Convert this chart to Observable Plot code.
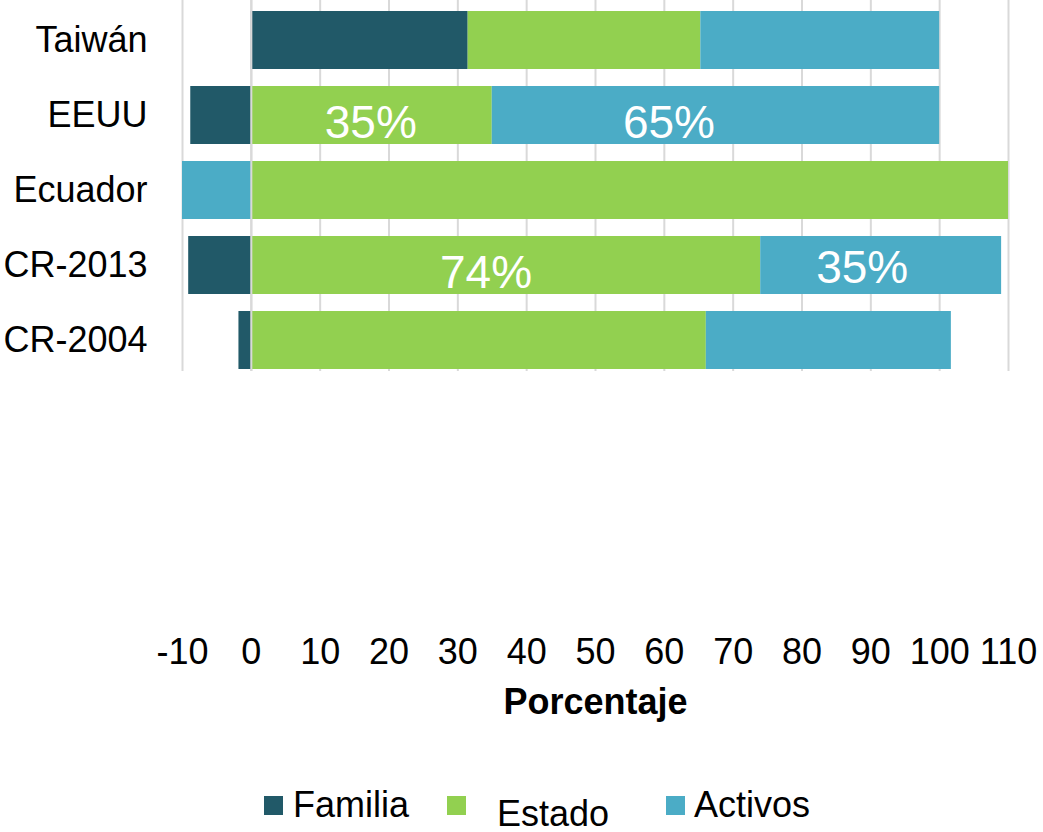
<!DOCTYPE html>
<html>
<head>
<meta charset="utf-8">
<script src="https://cdn.jsdelivr.net/npm/d3@7"></script>
<script src="https://cdn.jsdelivr.net/npm/@observablehq/plot@0.6"></script>
<style>
  html, body { margin: 0; padding: 0; background: #fff; }
  body { font-family: "Liberation Sans", Arial, sans-serif; color: #000; width: 1043px; }
  #legend { position: relative; width: 1043px; height: 87px; font-size: 36px; }
  #legend .sw { position: absolute; width: 19px; height: 19px; }
  #legend .lb { position: absolute; line-height: 36px; white-space: nowrap; }
</style>
</head>
<body>
<div id="chart"></div>
<div id="legend"></div>
<script>
// ---- data ----
const categories = ["Taiwán", "EEUU", "Ecuador", "CR-2013", "CR-2004"];
const series = ["Familia", "Estado", "Activos"];
const familia = [31.5, -8.8, 0, -9.1, -1.8];
const estado = [33.8, 35, 110, 74, 66.1];
const activos = [34.7, 65, -10, 35, 35.6];
const colors = ["#215968", "#92D050", "#4BACC6"];
const xTicks = [-10, 0, 10, 20, 30, 40, 50, 60, 70, 80, 90, 100, 110];
const xLabel = "Porcentaje";
const labelCategories = ["EEUU", "EEUU", "CR-2013", "CR-2013"];
const labelSeries = ["Estado", "Activos", "Estado", "Activos"];
const labelTexts = ["35%", "65%", "74%", "35%"];

// ---- table ----
const valuesBySeries = [familia, estado, activos];
const rows = categories.flatMap((c, i) =>
  series.map((s, j) => ({category: c, series: s, value: valuesBySeries[j][i]})));

// segment midpoints (same stacking as Plot: positives right, negatives left, in series order)
const mids = new Map();
categories.forEach((c, i) => {
  let pos = 0, neg = 0;
  series.forEach((s, j) => {
    const v = valuesBySeries[j][i];
    let a, b;
    if (v >= 0) { a = pos; b = pos + v; pos = b; } else { b = neg; a = neg + v; neg = a; }
    mids.set(c + "|" + s, (a + b) / 2);
  });
});
const labels = labelTexts.map((t, k) => ({
  category: labelCategories[k], series: labelSeries[k], text: t,
  x: mids.get(labelCategories[k] + "|" + labelSeries[k])
}));
// visual nudges of the data labels (style only)
const nudges = [{dx: -1, dy: 8}, {dx: -47, dy: 8}, {dx: -20, dy: 8}, {dx: -19, dy: 3}];

const H = 745, frameBottom = 371;
const chart = Plot.plot({
  width: 1043,
  height: H,
  marginLeft: 182,
  marginRight: 35,
  marginTop: 0,
  marginBottom: H - frameBottom,
  style: {fontFamily: '"Liberation Sans", Arial, sans-serif', fontSize: "36px", color: "#000", background: "#fff"},
  x: {domain: [-10, 110], axis: null},
  y: {domain: categories, range: [0, 380], paddingInner: 0.233, paddingOuter: 0.117, axis: null},
  color: {domain: series, range: colors},
  marks: [
    Plot.ruleX(xTicks, {stroke: "#d9d9d9", strokeWidth: 2}),
    Plot.barX(rows, {x: "value", y: "category", fill: "series", order: series, inset: 0}),
    Plot.ruleX([0], {stroke: "#d9d9d9", strokeWidth: 2}),
    ...labels.map((d, k) => Plot.text([d], {
      x: "x", y: "category", text: "text", fill: "white", fontSize: 46,
      dx: nudges[k].dx, dy: nudges[k].dy
    })),
    Plot.axisY({tickSize: 0, tickPadding: 35, fontSize: 36, label: null}),
    Plot.axisX({ticks: xTicks, tickSize: 0, tickPadding: 267, fontSize: 36, label: null, tickFormat: d => String(d)}),
    Plot.text([xLabel], {frameAnchor: "bottom", lineAnchor: "bottom", dy: 342, fontWeight: "bold", fontSize: 36})
  ]
});
document.getElementById("chart").appendChild(chart);

// ---- legend ----
const legend = d3.select("#legend");
const legendPos = [
  {sw: 264, tx: 293, ty: 41.5},
  {sw: 447, tx: 497, ty: 50.5},
  {sw: 666, tx: 694, ty: 41.5}
];
series.forEach((s, i) => {
  legend.append("div").attr("class", "sw")
    .style("left", legendPos[i].sw + "px").style("top", "51px").style("background", colors[i]);
  legend.append("div").attr("class", "lb")
    .style("left", legendPos[i].tx + "px").style("top", legendPos[i].ty + "px").text(s);
});
</script>
</body>
</html>
